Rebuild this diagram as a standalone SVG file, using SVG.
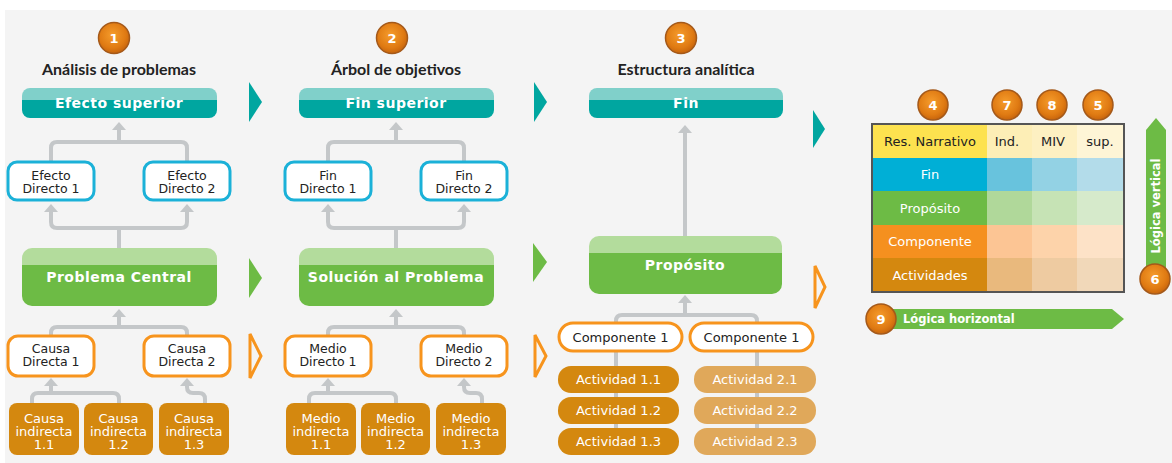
<svg xmlns="http://www.w3.org/2000/svg" width="1172" height="463" viewBox="0 0 1172 463">
<defs>
<style>
.title{font-family:Lato,"Open Sans","Liberation Sans",sans-serif;font-weight:bold;font-size:16px;fill:#222;text-anchor:middle}
.bar{font-family:"DejaVu Sans",Verdana,sans-serif;font-weight:bold;font-size:14px;letter-spacing:0.5px;fill:#fff;text-anchor:middle}
.nt{font-family:"DejaVu Sans",Verdana,sans-serif;font-size:13px;fill:#222;text-anchor:middle}
.nt2{font-family:"DejaVu Sans",Verdana,sans-serif;font-size:12.5px;fill:#222;text-anchor:middle}
.wt{font-family:"DejaVu Sans",Verdana,sans-serif;font-size:13px;fill:#fff;text-anchor:middle}
.num{font-family:"DejaVu Sans",Verdana,sans-serif;font-weight:bold;font-size:13px;fill:#fff;text-anchor:middle}
.lg{font-family:"DejaVu Sans",Verdana,sans-serif;font-weight:bold;font-size:11.5px;fill:#fff}
.blue{fill:#fff;stroke:#1bb1d8;stroke-width:3}
.orng{fill:#fff;stroke:#f7941d;stroke-width:3}
.ind{fill:#d4880f}
.act1{fill:#d4880f}
.act2{fill:#e0a85a}
.conn{fill:none;stroke:#c4c7c9;stroke-width:4;stroke-linejoin:round}
.badge{fill:url(#bgrad);stroke:#a4591a;stroke-width:1.5}
.tri{fill:#00a6a0}
.trig{fill:#6dbb45}
.trio{fill:none;stroke:#f7941d;stroke-width:3;stroke-linejoin:miter}
</style>
<radialGradient id="bgrad" cx="0.45" cy="0.4" r="0.6">
<stop offset="0" stop-color="#f59c2c"/>
<stop offset="0.7" stop-color="#e07b13"/>
<stop offset="1" stop-color="#c8650c"/>
</radialGradient>
<linearGradient id="teal" x1="0" y1="0" x2="0" y2="1">
<stop offset="0" stop-color="#80d0ca"/>
<stop offset="0.4" stop-color="#80d0ca"/>
<stop offset="0.4" stop-color="#00a6a0"/>
<stop offset="1" stop-color="#00a6a0"/>
</linearGradient>
<linearGradient id="green" x1="0" y1="0" x2="0" y2="1">
<stop offset="0" stop-color="#b3dc9c"/>
<stop offset="0.29" stop-color="#b3dc9c"/>
<stop offset="0.29" stop-color="#6dbb45"/>
<stop offset="1" stop-color="#6dbb45"/>
</linearGradient>
<marker id="ah" markerUnits="userSpaceOnUse" markerWidth="8" markerHeight="14" viewBox="0 0 8 14" refX="1" refY="7" orient="auto">
<path d="M0,0 L8,7 L0,14 z" fill="#c4c7c9"/>
</marker>
</defs>
<rect x="0" y="0" width="1172" height="463" fill="#fff"/>
<rect x="5" y="10" width="1167" height="453" fill="#f4f4f4"/>

<g id="connectors">
<path class="conn" d="M51,162 V148 Q51,142 57,142 H181 Q187,142 187,148 V162"/>
<path class="conn" d="M119,142 V129" marker-end="url(#ah)"/>
<path class="conn" d="M119,248 V228 M57,228 H181"/>
<path class="conn" d="M57,228 Q51,228 51,222 V211" marker-end="url(#ah)"/>
<path class="conn" d="M181,228 Q187,228 187,222 V211" marker-end="url(#ah)"/>
<path class="conn" d="M51,336 V333 Q51,327 57,327 H181 Q187,327 187,333 V336"/>
<path class="conn" d="M119,327 V316" marker-end="url(#ah)"/>
<path class="conn" d="M32,403 V399 Q32,393 38,393 H113 Q119,393 119,399 V403"/>
<path class="conn" d="M51,393 V385" marker-end="url(#ah)"/>
<path class="conn" d="M205,403 V399 Q205,393 199,393 H193 Q187,393 187,387 V385" marker-end="url(#ah)"/>
<path class="conn" d="M328,162 V148 Q328,142 334,142 H458 Q464,142 464,148 V162"/>
<path class="conn" d="M396,142 V129" marker-end="url(#ah)"/>
<path class="conn" d="M396,248 V228 M334,228 H458"/>
<path class="conn" d="M334,228 Q328,228 328,222 V211" marker-end="url(#ah)"/>
<path class="conn" d="M458,228 Q464,228 464,222 V211" marker-end="url(#ah)"/>
<path class="conn" d="M328,336 V333 Q328,327 334,327 H458 Q464,327 464,333 V336"/>
<path class="conn" d="M396,327 V316" marker-end="url(#ah)"/>
<path class="conn" d="M309,403 V399 Q309,393 315,393 H390 Q396,393 396,399 V403"/>
<path class="conn" d="M328,393 V385" marker-end="url(#ah)"/>
<path class="conn" d="M482,403 V399 Q482,393 476,393 H470 Q464,393 464,387 V385" marker-end="url(#ah)"/>
<path class="conn" d="M685,236 V132" marker-end="url(#ah)"/>
<path class="conn" d="M616,440 V321 Q616,315 622,315 H751 Q757,315 757,321 V440"/>
<path class="conn" d="M685,315 V302" marker-end="url(#ah)"/>
</g>

<g id="flow-arrows">
<polygon class="tri" points="249,82 262,102 249,122"/>
<polygon class="trig" points="249,258 262,278 249,298"/>
<polygon class="trio" points="250,334 261,356 250,378"/>
<polygon class="tri" points="534,82 547,102 534,122"/>
<polygon class="trig" points="533,243 547,262 533,282"/>
<polygon class="trio" points="535,335 546,356 535,377"/>
<polygon class="tri" points="813,110 825,129 813,148"/>
<polygon class="trio" points="815,266 825,287 815,308"/>
</g>

<g id="b1"><circle class="badge" cx="114" cy="38" r="15.5"/><text class="num" x="114" y="43">1</text></g>
<text id="t1" class="title" x="119" y="75">Análisis de problemas</text>
<g id="efecto-superior"><rect x="22" y="88" width="195" height="30" rx="8" fill="url(#teal)"/><text class="bar" x="119" y="108">Efecto superior</text></g>
<g id="efecto-d1"><rect class="blue" x="8" y="162" width="86" height="38" rx="9"/><text class="nt2" x="51" y="180">Efecto</text><text class="nt2" x="51" y="193">Directo 1</text></g>
<g id="efecto-d2"><rect class="blue" x="144" y="162" width="86" height="38" rx="9"/><text class="nt2" x="187" y="180">Efecto</text><text class="nt2" x="187" y="193">Directo 2</text></g>
<g id="problema-central"><rect x="22" y="248" width="195" height="58" rx="10" fill="url(#green)"/><text class="bar" x="119" y="282">Problema Central</text></g>
<g id="causa-d1"><rect class="orng" x="8" y="336" width="86" height="40" rx="10"/><text class="nt2" x="51" y="353">Causa</text><text class="nt2" x="51" y="366">Directa 1</text></g>
<g id="causa-d2"><rect class="orng" x="144" y="336" width="86" height="40" rx="10"/><text class="nt2" x="187" y="353">Causa</text><text class="nt2" x="187" y="366">Directa 2</text></g>
<g id="causa-i11"><rect class="ind" x="9" y="403" width="70" height="52" rx="8"/><text class="wt" x="44" y="423">Causa</text><text class="wt" x="44" y="436">indirecta</text><text class="wt" x="44" y="449">1.1</text></g>
<g id="causa-i12"><rect class="ind" x="84" y="403" width="69" height="52" rx="8"/><text class="wt" x="118.5" y="423">Causa</text><text class="wt" x="118.5" y="436">indirecta</text><text class="wt" x="118.5" y="449">1.2</text></g>
<g id="causa-i13"><rect class="ind" x="159" y="403" width="70" height="52" rx="8"/><text class="wt" x="194" y="423">Causa</text><text class="wt" x="194" y="436">indirecta</text><text class="wt" x="194" y="449">1.3</text></g>

<g id="b2"><circle class="badge" cx="392" cy="38" r="15.5"/><text class="num" x="392" y="43">2</text></g>
<text id="t2" class="title" x="396" y="75">Árbol de objetivos</text>
<g id="fin-superior"><rect x="299" y="88" width="195" height="30" rx="8" fill="url(#teal)"/><text class="bar" x="396" y="108">Fin superior</text></g>
<g id="fin-d1"><rect class="blue" x="285" y="162" width="86" height="38" rx="9"/><text class="nt2" x="328" y="180">Fin</text><text class="nt2" x="328" y="193">Directo 1</text></g>
<g id="fin-d2"><rect class="blue" x="421" y="162" width="86" height="38" rx="9"/><text class="nt2" x="464" y="180">Fin</text><text class="nt2" x="464" y="193">Directo 2</text></g>
<g id="solucion"><rect x="299" y="248" width="195" height="58" rx="10" fill="url(#green)"/><text class="bar" x="396" y="282">Solución al Problema</text></g>
<g id="medio-d1"><rect class="orng" x="285" y="336" width="86" height="40" rx="10"/><text class="nt2" x="328" y="353">Medio</text><text class="nt2" x="328" y="366">Directo 1</text></g>
<g id="medio-d2"><rect class="orng" x="421" y="336" width="86" height="40" rx="10"/><text class="nt2" x="464" y="353">Medio</text><text class="nt2" x="464" y="366">Directo 2</text></g>
<g id="medio-i11"><rect class="ind" x="286" y="403" width="70" height="52" rx="8"/><text class="wt" x="321" y="423">Medio</text><text class="wt" x="321" y="436">indirecta</text><text class="wt" x="321" y="449">1.1</text></g>
<g id="medio-i12"><rect class="ind" x="361" y="403" width="69" height="52" rx="8"/><text class="wt" x="395.5" y="423">Medio</text><text class="wt" x="395.5" y="436">indirecta</text><text class="wt" x="395.5" y="449">1.2</text></g>
<g id="medio-i13"><rect class="ind" x="436" y="403" width="70" height="52" rx="8"/><text class="wt" x="471" y="423">Medio</text><text class="wt" x="471" y="436">indirecta</text><text class="wt" x="471" y="449">1.3</text></g>

<g id="b3"><circle class="badge" cx="681" cy="38" r="15.5"/><text class="num" x="681" y="43">3</text></g>
<text id="t3" class="title" x="686" y="75">Estructura analítica</text>
<g id="fin"><rect x="589" y="88" width="194" height="30" rx="8" fill="url(#teal)"/><text class="bar" x="686" y="108">Fin</text></g>
<g id="proposito"><rect x="589" y="236" width="193" height="58" rx="10" fill="url(#green)"/><text class="bar" x="685" y="270">Propósito</text></g>
<g id="comp1"><rect class="orng" x="559" y="323" width="123" height="28" rx="14"/><text class="nt" x="620.5" y="342">Componente 1</text></g>
<g id="comp2"><rect class="orng" x="690" y="323" width="123" height="28" rx="14"/><text class="nt" x="751.5" y="342">Componente 1</text></g>
<g id="act11"><rect class="act1" x="558" y="366" width="121" height="27" rx="13"/><text class="wt" x="618.5" y="384">Actividad 1.1</text></g>
<g id="act12"><rect class="act1" x="558" y="397" width="121" height="27" rx="13"/><text class="wt" x="618.5" y="415">Actividad 1.2</text></g>
<g id="act13"><rect class="act1" x="558" y="428" width="121" height="27" rx="13"/><text class="wt" x="618.5" y="446">Actividad 1.3</text></g>
<g id="act21"><rect class="act2" x="694" y="366" width="122" height="27" rx="13"/><text class="wt" x="755" y="384">Actividad 2.1</text></g>
<g id="act22"><rect class="act2" x="694" y="397" width="122" height="27" rx="13"/><text class="wt" x="755" y="415">Actividad 2.2</text></g>
<g id="act23"><rect class="act2" x="694" y="428" width="122" height="27" rx="13"/><text class="wt" x="755" y="446">Actividad 2.3</text></g>

<g id="matrix">
<rect x="872" y="124" width="115" height="34" fill="#fde24f"/>
<rect x="987" y="124" width="45" height="34" fill="#fdeeb6"/>
<rect x="1032" y="124" width="45" height="34" fill="#fdf0c2"/>
<rect x="1077" y="124" width="47" height="34" fill="#fef5d6"/>
<rect x="872" y="158" width="115" height="33" fill="#00afd6"/>
<rect x="987" y="158" width="45" height="33" fill="#68c3dd"/>
<rect x="1032" y="158" width="45" height="33" fill="#93d2e4"/>
<rect x="1077" y="158" width="47" height="33" fill="#b3dcea"/>
<rect x="872" y="191" width="115" height="34" fill="#6dbb45"/>
<rect x="987" y="191" width="45" height="34" fill="#b0d89a"/>
<rect x="1032" y="191" width="45" height="34" fill="#c6e3b5"/>
<rect x="1077" y="191" width="47" height="34" fill="#d6eacb"/>
<rect x="872" y="225" width="115" height="33" fill="#f5901f"/>
<rect x="987" y="225" width="45" height="33" fill="#fcc594"/>
<rect x="1032" y="225" width="45" height="33" fill="#fdd3aa"/>
<rect x="1077" y="225" width="47" height="33" fill="#fde2c7"/>
<rect x="872" y="258" width="115" height="34" fill="#d4880f"/>
<rect x="987" y="258" width="45" height="34" fill="#e9b97d"/>
<rect x="1032" y="258" width="45" height="34" fill="#eecba1"/>
<rect x="1077" y="258" width="47" height="34" fill="#f1d8b9"/>
<rect x="872" y="124" width="252" height="168" fill="none" stroke="#555" stroke-width="2"/>
<text class="nt" x="930" y="146">Res. Narrativo</text>
<text class="nt" x="1007" y="146">Ind.</text>
<text class="nt" x="1053" y="146">MIV</text>
<text class="nt" x="1100" y="146">sup.</text>
<text class="wt" x="930" y="179">Fin</text>
<text class="wt" x="930" y="213">Propósito</text>
<text class="wt" x="930" y="246">Componente</text>
<text class="wt" x="930" y="280">Actividades</text>
</g>
<g id="b4"><circle class="badge" cx="933" cy="105" r="15"/><text class="num" x="933" y="110">4</text></g>
<g id="b7"><circle class="badge" cx="1007" cy="105" r="15"/><text class="num" x="1007" y="110">7</text></g>
<g id="b8"><circle class="badge" cx="1052" cy="105" r="15"/><text class="num" x="1052" y="110">8</text></g>
<g id="b5"><circle class="badge" cx="1098" cy="105" r="15"/><text class="num" x="1098" y="110">5</text></g>

<g id="logica-vertical">
<polygon points="1146,268 1146,130 1156,118 1166,130 1166,268" fill="#6dbb45"/>
<text class="lg" x="0" y="0" text-anchor="middle" transform="translate(1160,206) rotate(-90)">Lógica vertical</text>
</g>
<g id="b6"><circle class="badge" cx="1155" cy="279" r="15"/><text class="num" x="1155" y="284">6</text></g>

<g id="logica-horizontal">
<polygon points="881,309 1112,309 1124,319 1112,329 881,329" fill="#6dbb45"/>
<text class="lg" x="903" y="323">Lógica horizontal</text>
</g>
<g id="b9"><circle class="badge" cx="881" cy="319" r="15"/><text class="num" x="881" y="324">9</text></g>
</svg>
